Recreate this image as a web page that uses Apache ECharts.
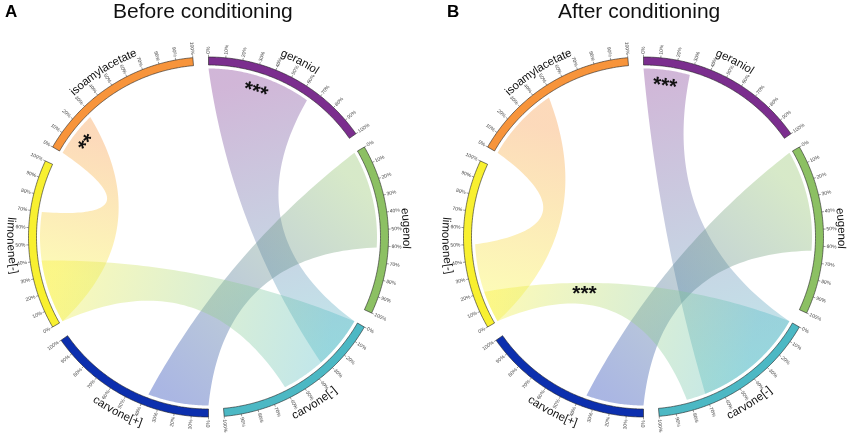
<!DOCTYPE html>
<html><head><meta charset="utf-8">
<script src="https://cdn.jsdelivr.net/npm/echarts@6/dist/echarts.min.js"></script>
<style>html,body{margin:0;padding:0;background:#fff}#c{width:850px;height:436px}</style>
</head><body><div id="c"></div>
<script>
// ---------- data ----------
const sectors = ['geraniol', 'eugenol', 'carvone[-]', 'carvone[+]', 'limonene[-]', 'isoamylacetate'];
const sectorColors = ['#7B2E8E', '#8CC063', '#4CB8C4', '#0C2FAE', '#F8F030', '#F7943B'];
const tickLabels = ['0%', '10%', '20%', '30%', '40%', '50%', '60%', '70%', '80%', '90%', '100%'];
const panelTitles = ['Before conditioning', 'After conditioning'];
const panelLetters = ['A', 'B'];
// link: [sourceSector, sourceExtent %, targetSector, targetExtent %]
const linksBefore = [[5, 28, 4, 70], [0, 65, 2, 33], [1, 61, 3, 38], [4, 40, 2, 60]];
const linksAfter  = [[5, 47, 4, 50], [0, 29, 2, 70], [1, 63, 3, 36], [4, 20, 2, 82]];
// significance marks on a link's source end: [linkIndex, text]
const marksBefore = [[0, '**'], [1, '***']];
const marksAfter  = [[1, '***']];
// significance marks inside a ribbon: [radius, angle, text]
const freeMarksBefore = [];
const freeMarksAfter  = [[82, 226, '***']];

// ---------- layout constants ----------
const SEG_STEP = 60, SEG_SPAN = 55;
const R_RIB = 168.5, R_IN = 172, R_OUT = 180, R_TICK = 182.3, R_TLAB = 183.2, R_NAME = 198;
const RIB_ALPHA = 0.35;
const FONT = '"Liberation Sans", Arial, Helvetica, sans-serif';

const ang = (s, pct) => s * SEG_STEP + pct / 100 * SEG_SPAN;
const norm = a => ((a % 360) + 360) % 360;
const sdiff = (a, b) => ((b - a + 540) % 360) - 180;
const rad = d => d * Math.PI / 180;
function rgba(hex, a) {
  const n = parseInt(hex.slice(1), 16);
  return 'rgba(' + (n >> 16) + ',' + ((n >> 8) & 255) + ',' + (n & 255) + ',' + a + ')';
}
const mctx = document.createElement('canvas').getContext('2d');

function makeRibbon(panel) {
  return function (params, api) {
    const s = api.value(0), sp = api.value(1), t = api.value(2), tp = api.value(3);
    const a1 = ang(s, 0), a2 = ang(s, sp), b1 = ang(t, 0), b2 = ang(t, tp);
    const midS = (a1 + a2) / 2, midT = (b1 + b2) / 2;
    const span = Math.abs(sdiff(midS, midT));
    const c = R_RIB * Math.max(0.04, 0.42 - 0.0025 * span);
    const pts = [];
    const arc = (x, y) => { const n = Math.max(2, Math.ceil(Math.abs(y - x) * 2)); for (let k = 0; k <= n; k++) pts.push(api.coord([R_RIB, norm(x + (y - x) * k / n)])); };
    const bez = (x, y) => {
      const P0 = api.coord([R_RIB, norm(x)]), P2 = api.coord([R_RIB, norm(y)]);
      const C = api.coord([c, norm(x + sdiff(x, y) / 2)]);
      const N = 60;
      for (let k = 1; k < N; k++) {
        const u = k / N, v = 1 - u;
        pts.push([v * v * P0[0] + 2 * u * v * C[0] + u * u * P2[0], v * v * P0[1] + 2 * u * v * C[1] + u * u * P2[1]]);
      }
    };
    arc(a1, a2); bez(a2, b1); arc(b1, b2); bez(b2, a1);
    const p0 = api.coord([R_RIB, norm(midS)]), p1 = api.coord([R_RIB, norm(midT)]);
    return {
      type: 'polygon', shape: { points: pts },
      style: {
        fill: new echarts.graphic.LinearGradient(p0[0], p0[1], p1[0], p1[1], [
          { offset: 0, color: rgba(sectorColors[s], RIB_ALPHA) },
          { offset: 1, color: rgba(sectorColors[t], RIB_ALPHA) }], true)
      }
    };
  };
}

function txt(x, y, rotDeg, text, size, fill, align, valign, weight) {
  return {
    type: 'text', x: x, y: y, rotation: rad(rotDeg),
    style: { text: text, fontSize: size, fontFamily: FONT, fontWeight: weight || 'normal', fill: fill,
      textAlign: align, align: align, textVerticalAlign: valign, verticalAlign: valign }
  };
}

function sectorItem(params, api) {
  const i = api.value(0);
  const a0 = ang(i, 0), a1 = ang(i, 100);
  const children = [];
  const pts = [];
  for (let k = 0; k <= 110; k++) pts.push(api.coord([R_OUT, a0 + (a1 - a0) * k / 110]));
  for (let k = 110; k >= 0; k--) pts.push(api.coord([R_IN, a0 + (a1 - a0) * k / 110]));
  children.push({ type: 'polygon', shape: { points: pts }, style: { fill: sectorColors[i], stroke: '#222', lineWidth: 0.6 } });
  tickLabels.forEach(function (lab, k) {
    const a = ang(i, k * 10);
    const p1 = api.coord([R_OUT, a]), p2 = api.coord([R_TICK, a]);
    children.push({ type: 'line', shape: { x1: p1[0], y1: p1[1], x2: p2[0], y2: p2[1] }, style: { stroke: '#333', lineWidth: 0.5 } });
    const q = api.coord([R_TLAB, a]);
    const out = a < 180;
    children.push(txt(q[0], q[1], out ? 90 - a : 270 - a, lab, 5, '#444', out ? 'left' : 'right', 'middle'));
  });
  // curved sector name
  const name = sectors[i];
  const mid = (a0 + a1) / 2;
  const flip = mid > 90 && mid < 270;
  const size = 11.5;
  mctx.font = size + 'px ' + FONT;
  const total = mctx.measureText(name).width;
  let acc = 0;
  for (let j = 0; j < name.length; j++) {
    const w = mctx.measureText(name.slice(0, j + 1)).width - acc;
    const off = (acc + w / 2 - total / 2) / R_NAME * 180 / Math.PI;
    acc += w;
    const a = flip ? mid - off : mid + off;
    const p = api.coord([R_NAME, norm(a)]);
    children.push(txt(p[0], p[1], flip ? 180 - a : -a, name[j], size, '#111', 'center', 'middle'));
  }
  return { type: 'group', children: children };
}

function makeMarks(links, marks) {
  return function (params, api) {
    const m = marks[params.dataIndex];
    const L = links[m[0]];
    const a = (ang(L[0], 0) + ang(L[0], L[1])) / 2;
    const p = api.coord([152, a]);
    return txt(p[0], p[1], -a, m[1], 21, '#111', 'center', 'middle', 'bold');
  };
}
function makeFree(free) {
  return function (params, api) {
    const m = free[params.dataIndex];
    const p = api.coord([m[0], m[1]]);
    return txt(p[0], p[1], 0, m[2], 21, '#111', 'center', 'middle', 'bold');
  };
}

const panels = [
  { links: linksBefore, marks: marksBefore, free: freeMarksBefore },
  { links: linksAfter, marks: marksAfter, free: freeMarksAfter }
];
const centers = [[208.5, 237], [643.5, 237]];
const series = [];
panels.forEach(function (P, p) {
  series.push({ type: 'custom', coordinateSystem: 'polar', polarIndex: p, z: 1, renderItem: makeRibbon(p), data: P.links });
  series.push({ type: 'custom', coordinateSystem: 'polar', polarIndex: p, z: 2, renderItem: sectorItem, data: sectors.map((n, i) => [i]) });
  series.push({ type: 'custom', coordinateSystem: 'polar', polarIndex: p, z: 3, renderItem: makeMarks(P.links, P.marks), data: P.marks.map(m => [m[0]]) });
  if (P.free.length) series.push({ type: 'custom', coordinateSystem: 'polar', polarIndex: p, z: 3, renderItem: makeFree(P.free), data: P.free.map(m => [m[0], m[1]]) });
});

const chart = echarts.init(document.getElementById('c'), null, { renderer: 'canvas' });
chart.setOption({
  backgroundColor: '#fff',
  animation: false,
  title: [
    { text: panelLetters[0], left: 5, top: 4, padding: 0, textStyle: { fontSize: 17, fontWeight: 'bold', color: '#000', fontFamily: FONT } },
    { text: panelTitles[0], left: 113, top: 2, padding: 0, textStyle: { fontSize: 21, fontWeight: 'normal', color: '#111', fontFamily: FONT } },
    { text: panelLetters[1], left: 447, top: 4, padding: 0, textStyle: { fontSize: 17, fontWeight: 'bold', color: '#000', fontFamily: FONT } },
    { text: panelTitles[1], left: 558, top: 2, padding: 0, textStyle: { fontSize: 21, fontWeight: 'normal', color: '#111', fontFamily: FONT } }
  ],
  polar: centers.map(c => ({ center: c, radius: 180 })),
  angleAxis: [0, 1].map(p => ({ polarIndex: p, type: 'value', min: 0, max: 360, startAngle: 90, clockwise: true, show: false })),
  radiusAxis: [0, 1].map(p => ({ polarIndex: p, type: 'value', min: 0, max: 180, show: false })),
  series: series
});
</script></body></html>
